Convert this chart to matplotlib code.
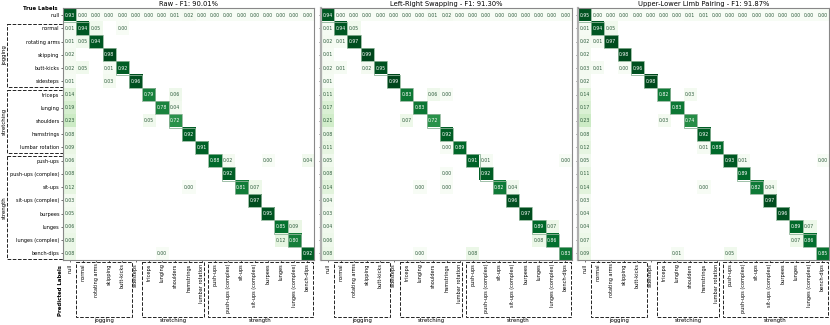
import numpy as np
import matplotlib
matplotlib.use('Agg')
import matplotlib.pyplot as plt
from matplotlib.patches import Rectangle

classes = ['null', 'normal', 'rotating arms', 'skipping', 'butt-kicks', 'sidesteps',
           'triceps', 'lunging', 'shoulders', 'hamstrings', 'lumbar rotation',
           'push-ups', 'push-ups (complex)', 'sit-ups', 'sit-ups (complex)',
           'burpees', 'lunges', 'lunges (complex)', 'bench-dips']
groups = ['jogging', 'stretching', 'strength']

titles = ['Raw - F1: 90.01%', 'Left-Right Swapping - F1: 91.30%',
          'Upper-Lower Limb Pairing - F1: 91.87%']

# non-empty cells per row as (column, value)
raw_cells = [
    [(0, .93)] + [(c, .00) for c in range(1, 8)] + [(8, .01), (9, .02)] + [(c, .00) for c in range(10, 19)],
    [(0, .01), (1, .94), (2, .05), (4, .00)],
    [(0, .01), (1, .05), (2, .94)],
    [(0, .02), (3, .98)],
    [(0, .02), (1, .05), (3, .01), (4, .92)],
    [(0, .01), (3, .03), (5, .96)],
    [(0, .14), (6, .79), (8, .06)],
    [(0, .19), (7, .78), (8, .04)],
    [(0, .23), (6, .05), (8, .72)],
    [(0, .08), (9, .92)],
    [(0, .09), (10, .91)],
    [(0, .06), (11, .88), (12, .02), (15, .00), (18, .04)],
    [(0, .08), (12, .92)],
    [(0, .12), (9, .00), (13, .81), (14, .07)],
    [(0, .03), (14, .97)],
    [(0, .05), (15, .95)],
    [(0, .06), (16, .85), (17, .09)],
    [(0, .08), (16, .12), (17, .80)],
    [(0, .08), (7, .00), (18, .92)],
]

lr_cells = [
    [(0, .94)] + [(c, .00) for c in range(1, 8)] + [(8, .01), (9, .02)] + [(c, .00) for c in range(10, 19)],
    [(0, .01), (1, .94), (2, .05)],
    [(0, .02), (1, .01), (2, .97)],
    [(0, .01), (3, .99)],
    [(0, .02), (1, .01), (3, .02), (4, .95)],
    [(0, .01), (5, .99)],
    [(0, .11), (6, .83), (8, .06), (9, .00)],
    [(0, .17), (7, .83)],
    [(0, .21), (6, .07), (8, .72)],
    [(0, .08), (9, .92)],
    [(0, .11), (9, .00), (10, .89)],
    [(0, .05), (11, .91), (12, .01), (18, .00)],
    [(0, .08), (9, .00), (12, .92)],
    [(0, .14), (7, .00), (9, .00), (13, .82), (14, .04)],
    [(0, .04), (14, .96)],
    [(0, .03), (15, .97)],
    [(0, .04), (16, .89), (17, .07)],
    [(0, .06), (16, .08), (17, .86)],
    [(0, .08), (7, .00), (11, .08), (18, .83)],
]

ul_cells = [
    [(0, .95)] + [(c, .00) for c in range(1, 8)] + [(8, .01), (9, .01)] + [(c, .00) for c in range(10, 19)],
    [(0, .01), (1, .94), (2, .05)],
    [(0, .02), (1, .01), (2, .97)],
    [(0, .02), (3, .98)],
    [(0, .03), (1, .01), (3, .00), (4, .96)],
    [(0, .02), (5, .98)],
    [(0, .14), (6, .82), (8, .03)],
    [(0, .17), (7, .83)],
    [(0, .23), (6, .03), (8, .74)],
    [(0, .08), (9, .92)],
    [(0, .12), (9, .01), (10, .88)],
    [(0, .05), (11, .93), (12, .01), (18, .00)],
    [(0, .11), (12, .89)],
    [(0, .14), (9, .00), (13, .82), (14, .04)],
    [(0, .03), (14, .97)],
    [(0, .04), (15, .96)],
    [(0, .04), (16, .89), (17, .07)],
    [(0, .07), (16, .07), (17, .86)],
    [(0, .09), (7, .01), (11, .05), (18, .85)],
]

n = len(classes)
fig = plt.figure(figsize=(8.3, 3.25), dpi=100)
lefts = [63, 321, 578]

xboxes = [(0.5, 4.7), (5.5, 10.2), (10.5, 18.4)]
yboxes = [(0.65, 5.45), (5.65, 10.45), (10.65, 18.45)]

for k, cells in enumerate([raw_cells, lr_cells, ul_cells]):
    m = np.full((n, n), np.nan)
    for i, row in enumerate(cells):
        for c, v in row:
            m[i, c] = v
    ax = fig.add_axes([lefts[k] / 830, 0.2, 251 / 830, 0.774])
    ax.imshow(m, cmap='Greens', vmin=0, vmax=1, aspect='auto', interpolation='nearest')
    for i, row in enumerate(cells):
        for c, v in row:
            ax.text(c, i, '%.2f' % v, ha='center', va='center', fontsize=3.3,
                    color='white' if v > 0.5 else '#2b5a3a')
    for i in range(n):
        ax.add_patch(Rectangle((i - 0.5, i - 0.5), 1, 1, fill=False,
                               edgecolor='#8fb59a', lw=0.6))
    ax.set_xticks(range(n))
    ax.set_xticklabels(classes, rotation=90, fontsize=3.6)
    ax.set_yticks(range(n))
    if k == 0:
        ax.set_yticklabels(classes, fontsize=3.6)
    else:
        ax.set_yticklabels([])
        ax.tick_params(axis='y', length=0)
    ax.tick_params(length=1.5, width=0.4, pad=1)
    for s in ax.spines.values():
        s.set_color('#888888')
        s.set_linewidth(0.8)
    if k > 0:
        ax.spines['left'].set_color('#b0b0b0')
        ax.spines['left'].set_linewidth(1.6)
    ax.set_title(titles[k], fontsize=4.9, pad=1.5)

    for (x0, x1), g in zip(xboxes, groups):
        ax.add_patch(Rectangle((x0, 18.65), x1 - x0, 4.15, fill=False, ls='--',
                               lw=0.7, edgecolor='#222222', clip_on=False))
        ax.text((x0 + x1) / 2, 23.1, g, ha='center', va='center', fontsize=3.9,
                clip_on=False)
    if k == 0:
        for (y0, y1), g in zip(yboxes, groups):
            ax.add_patch(Rectangle((-4.74, y0), 4.24, y1 - y0, fill=False, ls='--',
                                   lw=0.7, edgecolor='#222222', clip_on=False))
            ax.text(-4.95, (y0 + y1) / 2, g, ha='center', va='center', rotation=90,
                    fontsize=3.9, clip_on=False)

fig.text(40 / 830, 1 - 9 / 325, 'True Labels', ha='center', va='center',
         fontsize=3.9, fontweight='bold')
fig.text(60 / 830, 1 - 290 / 325, 'Predicted Labels', ha='center', va='center',
         rotation=90, fontsize=3.9, fontweight='bold')

fig.savefig('out.png', dpi=100)
